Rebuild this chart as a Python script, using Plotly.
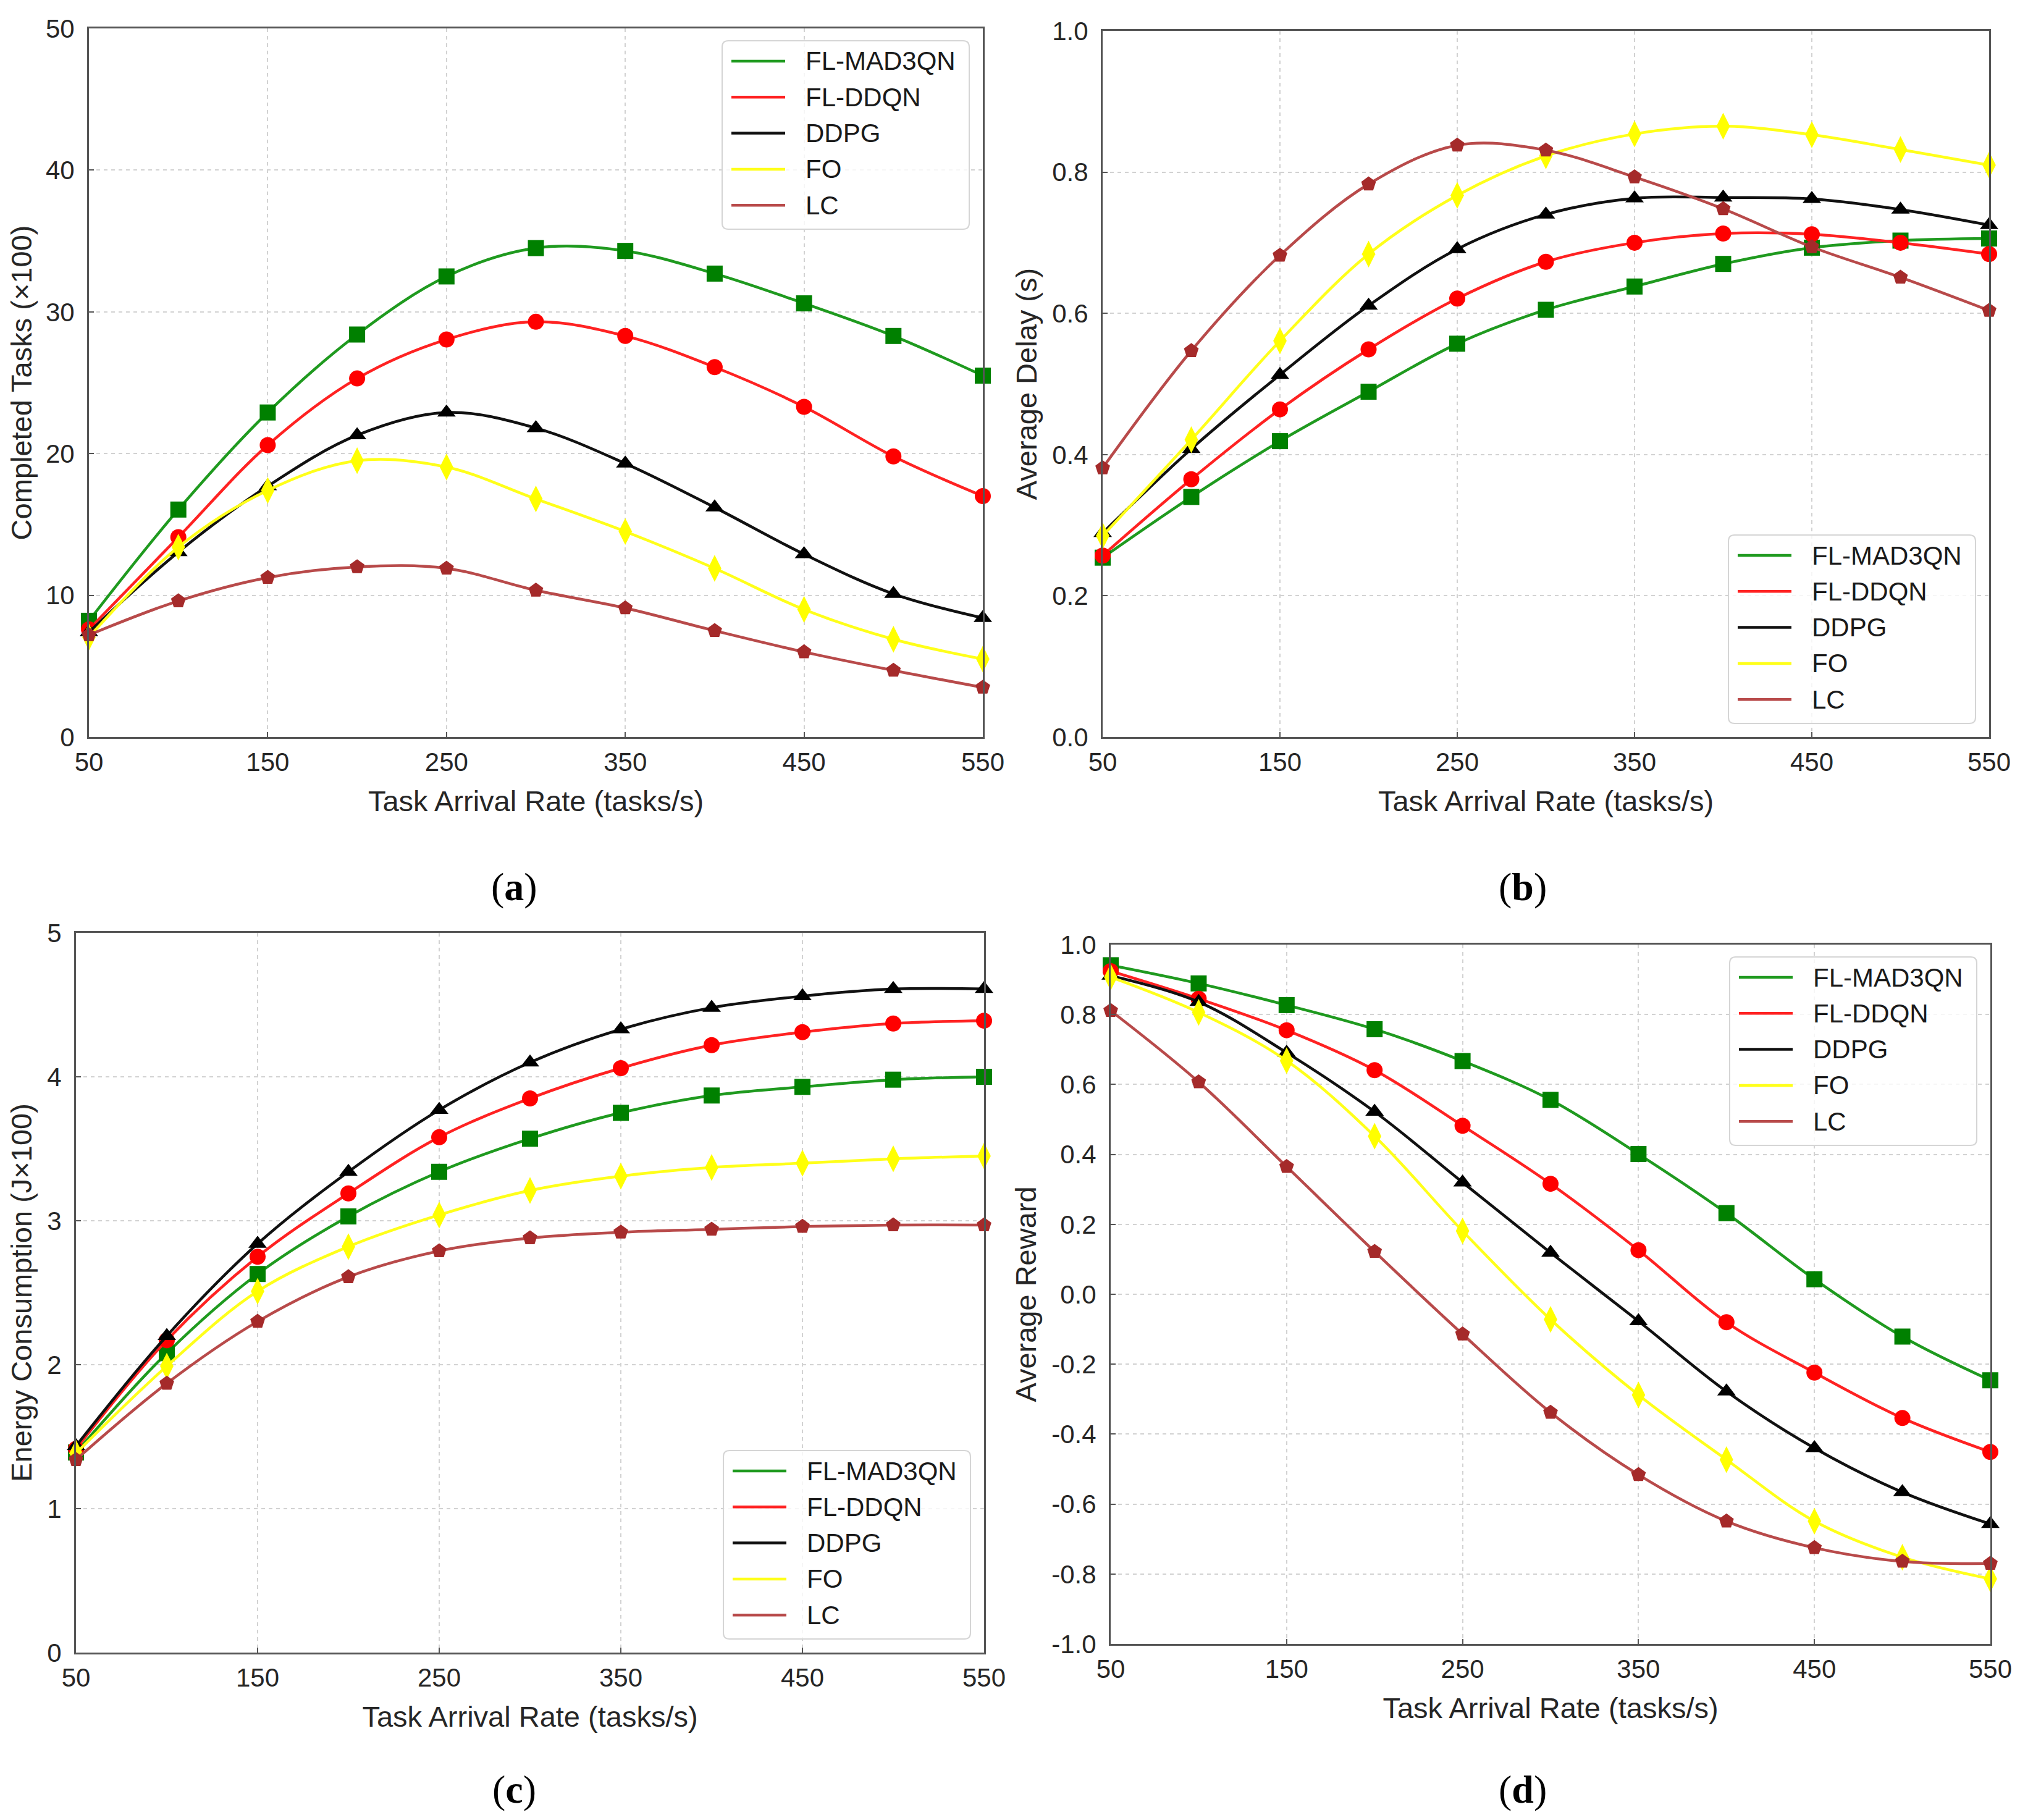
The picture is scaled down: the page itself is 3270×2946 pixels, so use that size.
import plotly.graph_objects as go

# ---------------- data ----------------
rates = [50, 100, 150, 200, 250, 300, 350, 400, 450, 500, 550]
series_names = ["FL-MAD3QN", "FL-DDQN", "DDPG", "FO", "LC"]

# (a) Completed Tasks (x100)
tasks_mad3qn = [8.2, 16.05, 22.9, 28.4, 32.5, 34.5, 34.3, 32.7, 30.6, 28.3, 25.5]
tasks_ddqn = [7.6, 14.1, 20.6, 25.3, 28.05, 29.3, 28.3, 26.1, 23.3, 19.8, 17.0]
tasks_ddpg = [7.4, 13.05, 17.7, 21.3, 22.9, 21.8, 19.3, 16.2, 12.9, 10.1, 8.4]
tasks_fo = [7.05, 13.4, 17.4, 19.5, 19.05, 16.8, 14.5, 11.9, 9.0, 6.9, 5.5]
tasks_lc = [7.2, 9.6, 11.25, 12.0, 11.9, 10.35, 9.1, 7.5, 6.0, 4.7, 3.5]

# (b) Average Delay (s)
delay_mad3qn = [0.254, 0.340, 0.419, 0.489, 0.557, 0.605, 0.638, 0.670, 0.693, 0.703, 0.706]
delay_ddqn = [0.257, 0.365, 0.464, 0.549, 0.621, 0.673, 0.700, 0.713, 0.712, 0.700, 0.684]
delay_ddpg = [0.289, 0.408, 0.513, 0.611, 0.691, 0.740, 0.763, 0.764, 0.762, 0.747, 0.725]
delay_fo = [0.285, 0.421, 0.561, 0.684, 0.767, 0.823, 0.854, 0.865, 0.853, 0.832, 0.810]
delay_lc = [0.381, 0.547, 0.682, 0.783, 0.838, 0.831, 0.793, 0.748, 0.694, 0.651, 0.604]

# (c) Energy Consumption (J x100)
energy_mad3qn = [1.39, 2.08, 2.63, 3.03, 3.34, 3.57, 3.75, 3.87, 3.93, 3.98, 4.00]
energy_ddqn = [1.415, 2.17, 2.75, 3.19, 3.58, 3.85, 4.06, 4.22, 4.31, 4.37, 4.39]
energy_ddpg = [1.435, 2.20, 2.84, 3.34, 3.77, 4.10, 4.33, 4.48, 4.56, 4.61, 4.61]
energy_fo = [1.385, 1.99, 2.51, 2.82, 3.04, 3.21, 3.31, 3.37, 3.40, 3.43, 3.45]
energy_lc = [1.34, 1.87, 2.30, 2.61, 2.79, 2.88, 2.92, 2.94, 2.96, 2.97, 2.97]

# (d) Average Reward
reward_mad3qn = [0.941, 0.889, 0.827, 0.758, 0.667, 0.556, 0.401, 0.232, 0.043, -0.121, -0.246]
reward_ddqn = [0.924, 0.845, 0.755, 0.641, 0.482, 0.316, 0.126, -0.080, -0.224, -0.354, -0.451]
reward_ddpg = [0.911, 0.836, 0.691, 0.522, 0.320, 0.119, -0.077, -0.278, -0.440, -0.566, -0.657]
reward_fo = [0.907, 0.806, 0.668, 0.452, 0.181, -0.072, -0.288, -0.473, -0.649, -0.752, -0.814]
reward_lc = [0.811, 0.607, 0.365, 0.122, -0.114, -0.338, -0.516, -0.649, -0.725, -0.764, -0.770]

x_ticks = [50, 150, 250, 350, 450, 550]
yticks_a = [0, 10, 20, 30, 40, 50]
yticklabels_a = ["0", "10", "20", "30", "40", "50"]
yticks_b = [0.0, 0.2, 0.4, 0.6, 0.8, 1.0]
yticklabels_b = ["0.0", "0.2", "0.4", "0.6", "0.8", "1.0"]
yticks_c = [0, 1, 2, 3, 4, 5]
yticklabels_c = ["0", "1", "2", "3", "4", "5"]
yticks_d = [-1.0, -0.8, -0.6, -0.4, -0.2, 0.0, 0.2, 0.4, 0.6, 0.8, 1.0]
yticklabels_d = ["-1.0", "-0.8", "-0.6", "-0.4", "-0.2", "0.0", "0.2", "0.4", "0.6", "0.8", "1.0"]

# ---------------- styles ----------------
W, H = 3270, 2946
line_colors = ["#1f9a1f", "#ff2222", "#111111", "#ffff1a", "#b84a4a"]
marker_colors = ["#008000", "#ff0000", "#000000", "#ffff00", "#a52a2a"]
marker_symbols = ["square", "circle", "triangle-up", "diamond-tall", "pentagon"]
marker_sizes = [26, 26, 26, 31, 25]
FONT = "Arial, Liberation Sans, sans-serif"
TXT = "#262626"

# panel rectangles in pixels: left, top, right, bottom
panels = {
    "a": (136, 38, 1583, 1185),
    "b": (1777, 42, 3212, 1185),
    "c": (115, 1502, 1585, 2667),
    "d": (1790, 1521, 3214, 2653),
}

panel_defs = [
    ("a", [tasks_mad3qn, tasks_ddqn, tasks_ddpg, tasks_fo, tasks_lc], [0, 50], yticks_a, yticklabels_a,
     "Completed Tasks (×100)", "top"),
    ("b", [delay_mad3qn, delay_ddqn, delay_ddpg, delay_fo, delay_lc], [0, 1], yticks_b, yticklabels_b,
     "Average Delay (s)", "bottom"),
    ("c", [energy_mad3qn, energy_ddqn, energy_ddpg, energy_fo, energy_lc], [0, 5], yticks_c, yticklabels_c,
     "Energy Consumption (J×100)", "bottom"),
    ("d", [reward_mad3qn, reward_ddqn, reward_ddpg, reward_fo, reward_lc], [-1, 1], yticks_d, yticklabels_d,
     "Average Reward", "top"),
]

def px_x(p):
    return p / W

def px_y(p):
    return 1 - p / H

fig = go.Figure()
layout = dict(
    width=W, height=H,
    margin=dict(l=0, r=0, t=0, b=0),
    paper_bgcolor="white", plot_bgcolor="white",
    showlegend=False,
    font=dict(family=FONT, color=TXT),
)
shapes = []
annotations = []

def rounded_rect(l, t, r, b, rad):
    xl, xr = px_x(l), px_x(r)
    yt, yb = px_y(t), px_y(b)
    rx, ry = rad / W, rad / H
    return (f"M{xl + rx},{yt} L{xr - rx},{yt} Q{xr},{yt} {xr},{yt - ry} "
            f"L{xr},{yb + ry} Q{xr},{yb} {xr - rx},{yb} L{xl + rx},{yb} "
            f"Q{xl},{yb} {xl},{yb + ry} L{xl},{yt - ry} Q{xl},{yt} {xl + rx},{yt} Z")

LEG_W, LEG_H, INSET = 400, 305, 22

for i, (key, data, yr, yt, ytl, ytitle, legpos) in enumerate(panel_defs):
    n = i + 1
    xa = "x" if n == 1 else f"x{n}"
    ya = "y" if n == 1 else f"y{n}"
    l, t, r, b = panels[key]
    layout["xaxis" if n == 1 else f"xaxis{n}"] = dict(
        domain=[px_x(l), px_x(r)], anchor=ya, range=[50, 550],
        tickvals=x_ticks, ticktext=[str(v) for v in x_ticks],
        showline=True, mirror=True, linecolor="#555555", linewidth=3,
        ticks="inside", ticklen=8, tickwidth=2, tickcolor="#555555",
        showgrid=True, gridcolor="#d2d2d2", gridwidth=2, griddash="6px,6px",
        zeroline=False, tickfont=dict(size=42, color=TXT),
        ticklabelstandoff=2,
        title=dict(text="Task Arrival Rate (tasks/s)", font=dict(size=47, color=TXT), standoff=24),
        automargin=False,
    )
    layout["yaxis" if n == 1 else f"yaxis{n}"] = dict(
        domain=[px_y(b), px_y(t)], anchor=xa, range=yr,
        tickvals=yt, ticktext=ytl,
        showline=True, mirror=True, linecolor="#555555", linewidth=3,
        ticks="inside", ticklen=8, tickwidth=2, tickcolor="#555555",
        showgrid=True, gridcolor="#d2d2d2", gridwidth=2, griddash="6px,6px",
        zeroline=False, tickfont=dict(size=42, color=TXT),
        ticklabelstandoff=12,
        title=dict(text=ytitle, font=dict(size=47, color=TXT), standoff=10),
        automargin=False,
    )
    for s, vals in enumerate(data):
        fig.add_trace(go.Scatter(
            x=rates, y=vals, mode="lines+markers", name=series_names[s],
            xaxis=xa, yaxis=ya, cliponaxis=False,
            line=dict(color=line_colors[s], width=4.5, shape="spline", smoothing=1.0),
            marker=dict(symbol=marker_symbols[s], size=marker_sizes[s], color=marker_colors[s],
                        line=dict(width=0)),
        ))

    # custom legend box
    lr = r - INSET
    ll = lr - LEG_W
    if legpos == "top":
        lt = t + INSET - 2
    else:
        lt = b - INSET - LEG_H
    lb = lt + LEG_H
    shapes.append(dict(type="path", path=rounded_rect(ll, lt, lr, lb, 10), xref="paper", yref="paper",
                       line=dict(color="#d5d5d5", width=2), fillcolor="rgba(255,255,255,0.8)", layer="above"))
    for s, name in enumerate(series_names):
        cy = lt + 33 + s * 58.3
        shapes.append(dict(type="line", xref="paper", yref="paper",
                           x0=px_x(ll + 15), x1=px_x(ll + 102), y0=px_y(cy), y1=px_y(cy),
                           line=dict(color=line_colors[s], width=4.5), layer="above"))
        annotations.append(dict(text=name, xref="paper", yref="paper", x=px_x(ll + 133), y=px_y(cy),
                                xanchor="left", yanchor="middle", showarrow=False,
                                font=dict(family=FONT, size=42, color="#1a1a1a")))

# captions
captions = [("a", 824, 1428), ("b", 2457, 1428), ("c", 824, 2888), ("d", 2457, 2888)]
for lab, cx, cy in captions:
    annotations.append(dict(text=f"(<b>{lab}</b>)", xref="paper", yref="paper", x=px_x(cx), y=px_y(cy),
                            xanchor="center", yanchor="middle", showarrow=False,
                            font=dict(family="Liberation Serif, Times New Roman, serif", size=64, color="#000000")))

layout["shapes"] = shapes
layout["annotations"] = annotations
fig.update_layout(**layout)
fig.write_html("out.html")
